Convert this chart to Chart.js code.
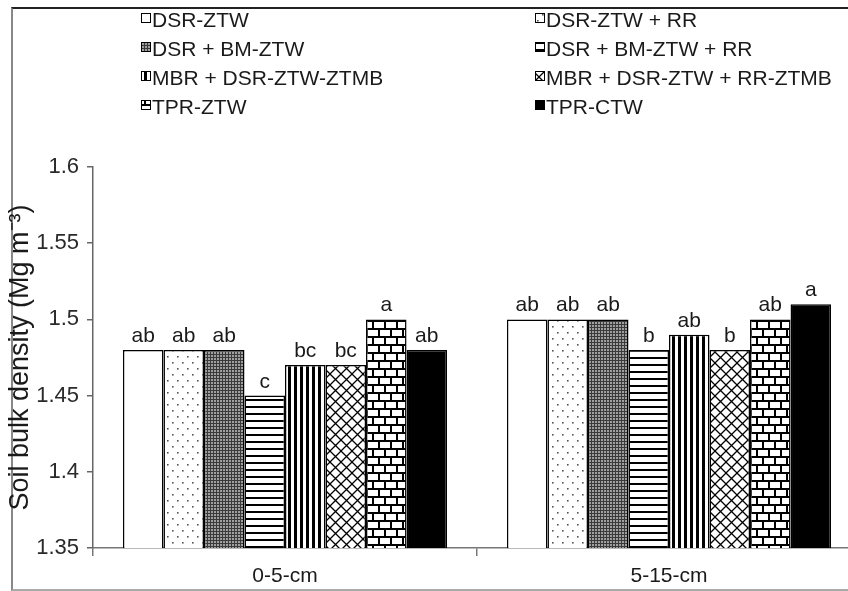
<!DOCTYPE html>
<html>
<head>
<meta charset="utf-8">
<script src="https://cdn.jsdelivr.net/npm/chart.js@4"></script>
<style>
  html, body { margin: 0; padding: 0; background: #fff; overflow: hidden; width: 848px; height: 591px; }
  #frame { position: absolute; left: 11px; top: 7px; width: 900px; height: 580px;
           border-left: 2px solid #888; border-top: 2px solid #222; border-bottom: 2px solid #aaa; }
  #c { position: absolute; left: 0; top: 0; }
</style>
</head>
<body>
<div id="frame"></div>
<canvas id="c" width="866" height="591"></canvas>
<script>
// depth classes on the x axis
const depths = ['0-5-cm', '5-15-cm'];

// tillage / residue treatments (legend order)
const treatments = [
  'DSR-ZTW', 'DSR-ZTW + RR',
  'DSR + BM-ZTW', 'DSR + BM-ZTW + RR',
  'MBR + DSR-ZTW-ZTMB', 'MBR + DSR-ZTW + RR-ZTMB',
  'TPR-ZTW', 'TPR-CTW'
];

// soil bulk density (Mg m-3), one value per treatment
const bulkDensity0to5  = [1.48, 1.48, 1.48, 1.45, 1.47, 1.47, 1.50, 1.48];
const bulkDensity5to15 = [1.50, 1.50, 1.50, 1.48, 1.49, 1.48, 1.50, 1.51];

// significance letters above the bars
const letters0to5  = ['ab', 'ab', 'ab', 'c', 'bc', 'bc', 'a', 'ab'];
const letters5to15 = ['ab', 'ab', 'ab', 'b', 'ab', 'b', 'ab', 'a'];

const yTickValues = [1.35, 1.4, 1.45, 1.5, 1.55, 1.6];

const FONT = "'Liberation Sans', Arial, sans-serif";
const INK = '#1a1a1a';

const canvas = document.getElementById('c');
const ctx = canvas.getContext('2d');

// ── 패턴 타일 ──
function tile(w, h, draw) {
  const c = document.createElement('canvas');
  c.width = w; c.height = h;
  const g = c.getContext('2d');
  g.fillStyle = '#fff';
  g.fillRect(0, 0, w, h);
  draw(g);
  return ctx.createPattern(c, 'repeat');
}

const fills = [
  '#ffffff',
  tile(10, 12, g => {            // sparse dots
    g.fillStyle = '#555';
    g.fillRect(2, 2, 1.6, 1.6);
    g.fillRect(7, 8, 1.6, 1.6);
  }),
  tile(3, 3, g => {              // dense dark grid
    g.fillStyle = '#3a3a3a';
    g.fillRect(0, 0, 3, 3);
    g.fillStyle = '#a0a0a0';
    g.fillRect(1, 1, 2, 2);
  }),
  tile(4, 7, g => {              // horizontal lines
    g.fillStyle = '#000';
    g.fillRect(0, 0, 4, 2);
  }),
  tile(6, 4, g => {              // vertical lines
    g.fillStyle = '#000';
    g.fillRect(0, 0, 3, 4);
  }),
  tile(11, 11, g => {            // diamond cross-hatch
    g.strokeStyle = '#000';
    g.lineWidth = 1.3;
    g.beginPath();
    g.moveTo(-1, -1); g.lineTo(12, 12);
    g.moveTo(12, -1); g.lineTo(-1, 12);
    g.stroke();
  }),
  tile(12, 16, g => {            // bricks
    g.fillStyle = '#000';
    g.fillRect(0, 0, 12, 2);
    g.fillRect(0, 8, 12, 2);
    g.fillRect(0, 0, 2, 8);
    g.fillRect(6, 8, 2, 8);
  }),
  '#000000'
];

const letterPlugin = {
  id: 'letters',
  afterDatasetsDraw(chart) {
    const c = chart.ctx;
    c.save();
    c.font = `21px ${FONT}`;
    c.fillStyle = INK;
    c.textAlign = 'center';
    c.textBaseline = 'alphabetic';
    chart.data.datasets.forEach((ds, i) => {
      const meta = chart.getDatasetMeta(i);
      meta.data.forEach((bar, j) => {
        const txt = (j === 0 ? letters0to5 : letters5to15)[i];
        c.fillText(txt, bar.x, bar.y - 8);
      });
    });
    c.restore();
  }
};

// 범례: 2열 배치
const legendPlugin = {
  id: 'twoColLegend',
  afterDraw(chart) {
    const c = chart.ctx;
    c.save();
    c.font = `21px ${FONT}`;
    c.fillStyle = INK;
    c.textBaseline = 'alphabetic';
    chart.data.datasets.forEach((ds, i) => {
      const col = i % 2, row = Math.floor(i / 2);
      const bx = col === 0 ? 141.5 : 535.5;
      const by = 13.5 + row * 29;
      c.fillStyle = ds.backgroundColor;
      c.fillRect(bx, by, 9, 9);
      c.strokeStyle = '#000';
      c.lineWidth = 1;
      c.strokeRect(bx, by, 9, 9);
      c.fillStyle = INK;
      c.fillText(ds.label, bx + 10.5, 26.5 + row * 29);
    });
    c.restore();
  }
};

new Chart(ctx, {
  type: 'bar',
  data: {
    labels: depths,
    datasets: treatments.map((t, i) => ({
      label: t,
      data: [bulkDensity0to5[i], bulkDensity5to15[i]],
      backgroundColor: fills[i],
      borderColor: '#000',
      borderWidth: 1.5,
      categoryPercentage: 0.844,
      barPercentage: 1.0
    }))
  },
  options: {
    responsive: false,
    animation: false,
    devicePixelRatio: 1,
    layout: { padding: { top: 167, right: 5, bottom: 0, left: 0 } },
    plugins: { legend: { display: false }, tooltip: { enabled: false } },
    scales: {
      x: {
        afterFit(s) { s.height = 43; },
        border: { color: '#777', width: 1.5 },
        grid: { offset: true, drawOnChartArea: false, drawTicks: true, tickLength: 8, color: '#777', lineWidth: 1.5 },
        ticks: { color: INK, font: { family: FONT, size: 21 }, padding: 8 }
      },
      y: {
        min: 1.35,
        max: 1.6,
        afterFit(s) { s.width = 93; },
        afterBuildTicks(s) { s.ticks = yTickValues.map(v => ({ value: v })); },
        border: { color: '#666', width: 1.5 },
        grid: { drawOnChartArea: false, drawTicks: true, tickLength: 6, color: '#666', lineWidth: 1.5 },
        ticks: {
          color: '#2a2a2a',
          font: { family: FONT, size: 22 },
          padding: 8,
          callback: v => String(+v.toFixed(2))
        },
        title: {
          display: true,
          text: 'Soil bulk density (Mg m\u207B\u00B3)',
          color: INK,
          font: { family: FONT, size: 27 },
          padding: { top: 4, bottom: 0 }
        }
      }
    }
  },
  plugins: [letterPlugin, legendPlugin]
});
</script>
</body>
</html>
